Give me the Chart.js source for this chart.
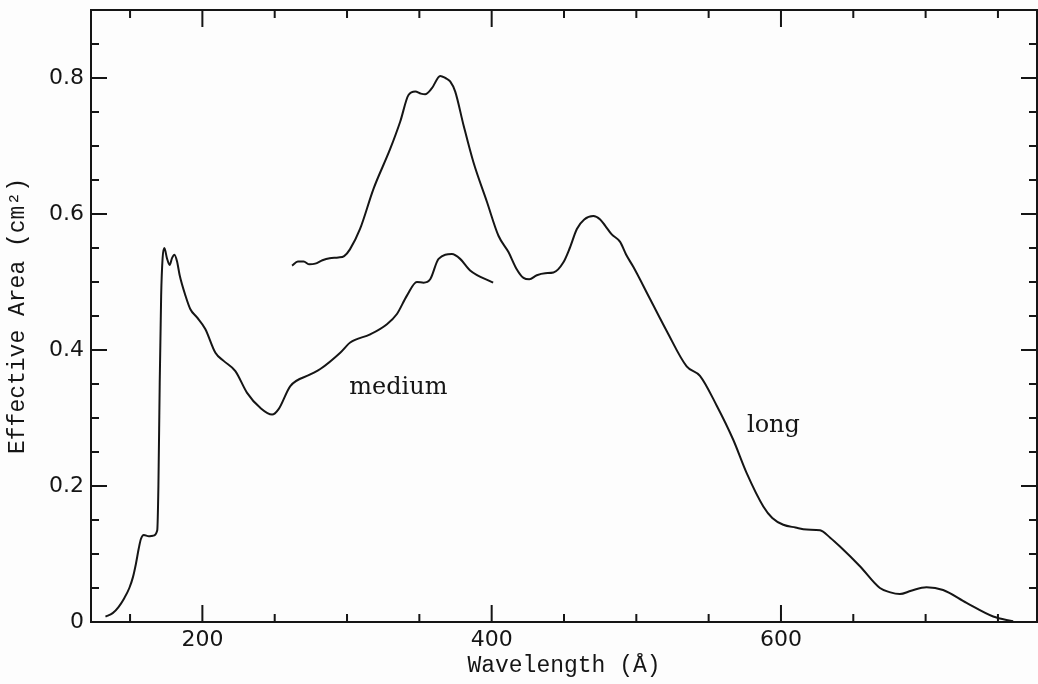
<!DOCTYPE html>
<html>
<head>
<meta charset="utf-8">
<script src="https://cdn.jsdelivr.net/npm/chart.js@4.4.1/dist/chart.umd.min.js"></script>
<style>
  html, body { margin: 0; padding: 0; background: #fdfdfd; }
  canvas { display: block; }
</style>
</head>
<body>
<canvas id="areaChart" width="1038" height="684"></canvas>
<script>
// Effective area curves (wavelength in Å, area in cm^2)
const mediumWavelength = [133, 138, 142, 146, 149.5, 152, 154, 156, 157.5, 159.5, 163, 166, 168.8, 169.6, 170.5, 171.5, 172.5, 173.7, 175.5, 177.4, 179, 180.7, 182.5, 184.3, 188.3, 191.7, 196.3, 202, 209, 214.7, 222.8, 230.9, 240, 248.2, 252.7, 260.8, 274.6, 281.5, 295.3, 302.2, 316, 327.6, 334.5, 341.4, 348.3, 352.9, 357.5, 363.3, 372.5, 378.2, 385.1, 401];
const mediumArea = [0.008, 0.013, 0.022, 0.035, 0.05, 0.066, 0.085, 0.108, 0.122, 0.128, 0.126, 0.127, 0.135, 0.2, 0.35, 0.48, 0.535, 0.55, 0.535, 0.525, 0.535, 0.54, 0.53, 0.51, 0.48, 0.46, 0.448, 0.431, 0.396, 0.384, 0.369, 0.337, 0.315, 0.305, 0.313, 0.347, 0.364, 0.372, 0.396, 0.411, 0.423, 0.438, 0.453, 0.48, 0.5, 0.499, 0.504, 0.534, 0.541, 0.534, 0.517, 0.499];

const longWavelength = [262, 266, 270, 274, 278, 283, 288, 294, 298, 302, 309, 318.3, 329.9, 336.8, 342.5, 347.2, 351, 354, 358.7, 364.4, 368, 371.3, 374.8, 380.5, 387.4, 396.7, 404.7, 411.6, 417, 422, 426, 431.2, 437, 442.7, 449.6, 454, 458.9, 464, 470.3, 475, 478.4, 483, 488.8, 493, 498, 509.5, 521, 534.8, 544, 555.6, 567, 576.3, 587.8, 594, 601.6, 610, 617.8, 627, 634, 640.8, 654.6, 668.4, 675, 682.2, 690, 700.6, 712.1, 728.3, 746.7, 760.5];
const longArea = [0.524, 0.53, 0.53, 0.526, 0.527, 0.532, 0.535, 0.536, 0.538, 0.548, 0.578, 0.637, 0.696, 0.736, 0.775, 0.78, 0.777, 0.776, 0.785, 0.803, 0.8, 0.795, 0.78, 0.731, 0.676, 0.618, 0.568, 0.544, 0.52, 0.506, 0.504, 0.51, 0.513, 0.514, 0.529, 0.55, 0.578, 0.592, 0.597, 0.592, 0.583, 0.57, 0.559, 0.54, 0.522, 0.475, 0.428, 0.376, 0.362, 0.318, 0.268, 0.219, 0.17, 0.153, 0.143, 0.139, 0.136, 0.135, 0.124, 0.111, 0.082, 0.05, 0.044, 0.041, 0.046, 0.051, 0.047, 0.028, 0.008, 0.001];

// Axis ticks
const xMajorTicks = [200, 400, 600];
const xMinorTicks = [150, 250, 300, 350, 450, 500, 550, 650, 700, 750];
const yMajorTicks = [0, 0.2, 0.4, 0.6, 0.8];
const yMinorTicks = [0.05, 0.1, 0.15, 0.25, 0.3, 0.35, 0.45, 0.5, 0.55, 0.65, 0.7, 0.75, 0.85];

// Curve labels (data coordinates of the text baseline start)
const curveLabels = [
    { text: 'medium', x: 301.5, y: 0.336 },
    { text: 'long', x: 576.5, y: 0.28 }
];

const ink = '#151515';

function toPoints(xs, ys) {
    return xs.map((v, i) => ({ x: v, y: ys[i] }));
}

// Frame with inward ticks on all four sides, plus curve labels
const frameTicks = {
    id: 'frameTicks',
    afterDatasetsDraw(chart) {
        const { ctx, chartArea: a, scales: { x, y } } = chart;
        ctx.save();
        ctx.strokeStyle = ink;
        ctx.lineWidth = 2;
        ctx.strokeRect(a.left, a.top, a.right - a.left, a.bottom - a.top);

        ctx.beginPath();
        const xt = xMajorTicks.map(v => [v, 17]).concat(xMinorTicks.map(v => [v, 8]));
        xt.forEach(([v, len]) => {
            const px = x.getPixelForValue(v);
            ctx.moveTo(px, a.bottom); ctx.lineTo(px, a.bottom - len);
            ctx.moveTo(px, a.top); ctx.lineTo(px, a.top + len);
        });
        const yt = yMajorTicks.map(v => [v, 16]).concat(yMinorTicks.map(v => [v, 8]));
        yt.forEach(([v, len]) => {
            const py = y.getPixelForValue(v);
            ctx.moveTo(a.left, py); ctx.lineTo(a.left + len, py);
            ctx.moveTo(a.right, py); ctx.lineTo(a.right - len, py);
        });
        ctx.stroke();

        ctx.fillStyle = ink;
        ctx.font = '24px "DejaVu Serif"';
        ctx.textAlign = 'left';
        ctx.textBaseline = 'alphabetic';
        curveLabels.forEach(l => {
            ctx.fillText(l.text, x.getPixelForValue(l.x), y.getPixelForValue(l.y));
        });
        ctx.restore();
    }
};

new Chart(document.getElementById('areaChart'), {
    type: 'line',
    data: {
        datasets: [
            {
                label: 'medium',
                data: toPoints(mediumWavelength, mediumArea),
                borderColor: ink,
                borderWidth: 2,
                pointRadius: 0,
                cubicInterpolationMode: 'monotone',
                fill: false
            },
            {
                label: 'long',
                data: toPoints(longWavelength, longArea),
                borderColor: ink,
                borderWidth: 2,
                pointRadius: 0,
                cubicInterpolationMode: 'monotone',
                fill: false
            }
        ]
    },
    options: {
        responsive: false,
        animation: false,
        layout: { padding: { top: 10, right: 1, left: 0, bottom: 0 } },
        plugins: {
            legend: { display: false },
            tooltip: { enabled: false }
        },
        scales: {
            x: {
                type: 'linear',
                min: 123,
                max: 777,
                grid: { display: false, drawTicks: false },
                border: { display: false },
                afterBuildTicks: s => { s.ticks = xMajorTicks.map(v => ({ value: v })); },
                afterFit: s => { s.height = 62; s.paddingLeft = 0; s.paddingRight = 0; },
                ticks: {
                    color: ink,
                    font: { family: 'DejaVu Sans', size: 22 },
                    padding: 5,
                    maxRotation: 0,
                    autoSkip: false
                },
                title: {
                    display: true,
                    text: 'Wavelength (Å)',
                    color: ink,
                    font: { family: 'Liberation Mono', size: 23 },
                    padding: { top: 0, bottom: 4 }
                }
            },
            y: {
                min: 0,
                max: 0.9,
                grid: { display: false, drawTicks: false },
                border: { display: false },
                afterBuildTicks: s => { s.ticks = yMajorTicks.map(v => ({ value: v })); },
                afterFit: s => { s.width = 91; s.paddingTop = 0; s.paddingBottom = 0; },
                ticks: {
                    color: ink,
                    font: { family: 'DejaVu Sans', size: 22 },
                    padding: 7,
                    callback: v => (v === 0 ? '0' : v.toFixed(1))
                },
                title: {
                    display: true,
                    text: 'Effective Area (cm²)',
                    color: ink,
                    font: { family: 'Liberation Mono', size: 23 },
                    padding: { top: 4, bottom: 0 }
                }
            }
        }
    },
    plugins: [frameTicks]
});
</script>
</body>
</html>
